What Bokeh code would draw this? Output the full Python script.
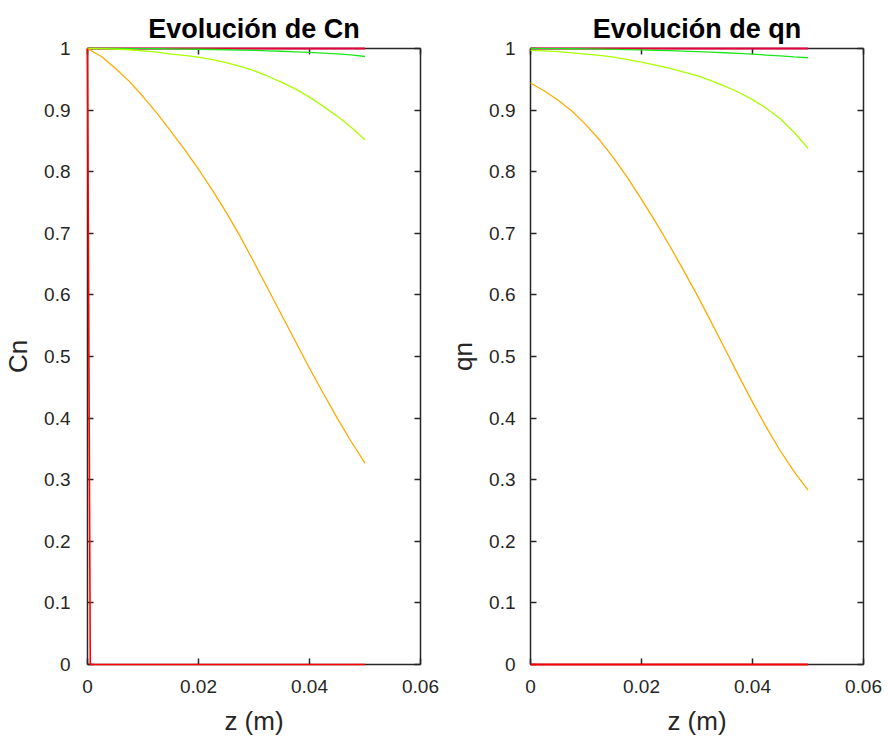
from bokeh.plotting import figure
from bokeh.layouts import row
from bokeh.models import Range1d, LinearAxis, FixedTicker
from bokeh.embed import file_html
from bokeh.resources import INLINE

# Axial positions (m)
z = [0.0, 0.0025, 0.005, 0.0075, 0.01, 0.0125, 0.015, 0.0175, 0.02, 0.0225, 0.025,
     0.0275, 0.03, 0.0325, 0.035, 0.0375, 0.04, 0.0425, 0.045, 0.0475, 0.05]

# Normalised fluid-phase concentration profiles Cn at successive times
cn_green = [1.0, 1.0, 1.0, 0.9999, 0.9998, 0.9996, 0.9994, 0.9991, 0.9988, 0.9984, 0.998,
            0.9975, 0.997, 0.9963, 0.9955, 0.9946, 0.9936, 0.9925, 0.9912, 0.9895, 0.987]
cn_ygreen = [1.0, 0.9998, 0.999, 0.998, 0.996, 0.994, 0.991, 0.989, 0.986, 0.982, 0.977,
             0.971, 0.964, 0.955, 0.945, 0.934, 0.921, 0.906, 0.89, 0.872, 0.852]
cn_orange = [1.0, 0.987, 0.968, 0.947, 0.922, 0.895, 0.866, 0.836, 0.804, 0.770, 0.734,
             0.695, 0.653, 0.610, 0.567, 0.524, 0.481, 0.440, 0.400, 0.362, 0.327]
cn_full = [1.0] * len(z)
z_start = [0.0, 0.0005, 0.05]
cn_start = [1.0, 0.0, 0.0]

# Normalised solid-phase loading profiles qn at the same times
qn_green = [1.0, 0.9999, 0.9998, 0.9996, 0.9993, 0.999, 0.9986, 0.9982, 0.9977, 0.9971, 0.9965,
            0.9958, 0.995, 0.9941, 0.9931, 0.992, 0.9908, 0.9894, 0.9879, 0.9863, 0.985]
qn_ygreen = [0.997, 0.996, 0.995, 0.993, 0.991, 0.989, 0.986, 0.982, 0.978, 0.973, 0.968,
             0.962, 0.956, 0.948, 0.939, 0.929, 0.917, 0.903, 0.886, 0.864, 0.838]
qn_orange = [0.944, 0.931, 0.916, 0.898, 0.876, 0.851, 0.822, 0.790, 0.755, 0.719, 0.681,
             0.641, 0.600, 0.557, 0.513, 0.469, 0.426, 0.385, 0.347, 0.313, 0.283]
qn_full = [1.0] * len(z)
qn_start = [0.0] * len(z)

x_ticks = [0, 0.02, 0.04, 0.06]
x_tick_labels = ["0", "0.02", "0.04", "0.06"]
y_ticks = [0, 0.1, 0.2, 0.3, 0.4, 0.5, 0.6, 0.7, 0.8, 0.9, 1.0]
y_tick_labels = ["0", "0.1", "0.2", "0.3", "0.4", "0.5", "0.6", "0.7", "0.8", "0.9", "1"]

FONT = "Liberation Sans"
AX = "#262626"
C_RED = "#ff0000"
C_TOP = "#e8003c"
C_ORANGE = "#ffaa00"
C_YGREEN = "#aaff00"
C_GREEN = "#1ee61e"


def box_axis_style(ax):
    ax.axis_line_color = AX
    ax.axis_line_width = 1.5
    ax.major_tick_line_color = AX
    ax.major_tick_line_width = 1.5
    ax.major_tick_in = 6
    ax.major_tick_out = 0
    ax.minor_tick_line_color = None


def make_panel(title, ylabel, left_border, right_border, ytick_standoff, curves):
    p = figure(width=left_border + 333 + right_border, height=740,
               x_range=Range1d(0, 0.06), y_range=Range1d(0, 1),
               output_backend="svg", toolbar_location=None,
               min_border_left=left_border, min_border_right=right_border,
               min_border_top=48, min_border_bottom=76)
    p.grid.visible = False
    p.outline_line_color = None
    p.background_fill_color = "white"
    p.border_fill_color = "white"

    p.title.text = title
    p.title.align = "center"
    p.title.text_font = FONT
    p.title.text_font_size = "27px"
    p.title.text_font_style = "bold"
    p.title.text_color = "black"
    p.title.standoff = 9

    xa = p.xaxis[0]
    ya = p.yaxis[0]
    xa.ticker = FixedTicker(ticks=x_ticks)
    ya.ticker = FixedTicker(ticks=y_ticks)
    xa.major_label_overrides = {t: s for t, s in zip(x_ticks, x_tick_labels)}
    ya.major_label_overrides = {t: s for t, s in zip(y_ticks, y_tick_labels)}
    xa.axis_label = "z (m)"
    ya.axis_label = ylabel
    xa.major_label_standoff = 15
    ya.major_label_standoff = ytick_standoff
    xa.axis_label_standoff = 10
    ya.axis_label_standoff = 8
    xa.axis_label_text_line_height = 0.8
    for ax in (xa, ya):
        box_axis_style(ax)
        ax.major_label_text_font = FONT
        ax.major_label_text_font_size = "19px"
        ax.major_label_text_color = AX
        ax.axis_label_text_font = FONT
        ax.axis_label_text_font_size = "26px"
        ax.axis_label_text_font_style = "normal"
        ax.axis_label_text_color = AX

    # closed box: mirrored axes on top and right with inward ticks, no labels
    top = LinearAxis(ticker=FixedTicker(ticks=x_ticks))
    right = LinearAxis(ticker=FixedTicker(ticks=y_ticks))
    for ax in (top, right):
        box_axis_style(ax)
        ax.major_label_text_color = None
        ax.major_label_text_font_size = "1px"
        ax.major_label_standoff = 0
    p.add_layout(top, "above")
    p.add_layout(right, "right")

    for xs, ys, color, lw in curves:
        r = p.line(xs, ys, line_color=color, line_width=lw)
        r.level = "overlay"
    return p


left = make_panel("Evolución de Cn", "Cn", 87, 25, 17, [
    (z, cn_full, C_TOP, 2),
    (z, cn_green, C_GREEN, 1.3),
    (z, cn_ygreen, C_YGREEN, 1.3),
    (z, cn_orange, C_ORANGE, 1.3),
    (z_start, cn_start, C_RED, 1.6),
])

right = make_panel("Evolución de qn", "qn", 85, 26, 15, [
    (z, qn_full, C_TOP, 2),
    (z, qn_green, C_GREEN, 1.3),
    (z, qn_ygreen, C_YGREEN, 1.3),
    (z, qn_orange, C_ORANGE, 1.3),
    (z, qn_start, C_RED, 2),
])

layout = row(left, right, spacing=0)
open("out.html", "w").write(file_html(layout, INLINE))
